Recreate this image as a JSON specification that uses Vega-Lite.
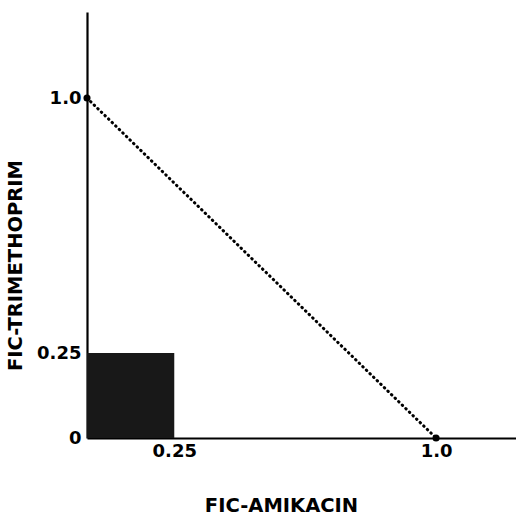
{
  "$schema": "https://vega.github.io/schema/vega-lite/v6.json",
  "width": 429,
  "height": 426,
  "autosize": {"type": "none"},
  "padding": {"left": 87, "top": 12, "right": 0, "bottom": 79},
  "background": "white",
  "config": {
    "view": {"stroke": null},
    "axis": {
      "grid": false,
      "ticks": false,
      "domainColor": "black",
      "domainWidth": 2.2,
      "labelFont": "DejaVu Sans",
      "labelFontSize": 18,
      "labelFontWeight": 600,
      "labelColor": "black",
      "titleFont": "DejaVu Sans",
      "titleFontSize": 19.5,
      "titleFontWeight": "bold",
      "titleColor": "black",
      "labelFlush": false,
      "labelOverlap": false
    }
  },
  "datasets": {
    "square": [{"x": 0, "x2": 0.25, "y": 0, "y2": 0.25}],
    "line": [{"fic_amikacin": 0, "fic_trimethoprim": 1.0}, {"fic_amikacin": 1.0, "fic_trimethoprim": 0}]
  },
  "layer": [
    {
      "data": {"name": "square"},
      "mark": {"type": "rect", "color": "#181818"},
      "encoding": {
        "x": {"field": "x", "type": "quantitative", "scale": {"domain": [0, 1.229], "nice": false, "zero": false},
          "axis": {"values": [0.25, 1.0], "labelExpr": "datum.value == 1 ? '1.0' : '0.25'", "labelPadding": 4,
            "title": "FIC-AMIKACIN", "titleX": 194, "titleY": 67, "titleBaseline": "middle", "titleAlign": "center"}},
        "x2": {"field": "x2"},
        "y": {"field": "y", "type": "quantitative", "scale": {"domain": [0, 1.253], "nice": false, "zero": false},
          "axis": {"values": [0, 0.25, 1.0], "labelExpr": "datum.value == 1 ? '1.0' : datum.value == 0 ? '0' : '0.25'", "labelPadding": 6, "labelBaseline": "middle",
            "title": "FIC-TRIMETHOPRIM", "titleX": -72, "titleY": 253, "titleBaseline": "middle", "titleAlign": "center", "titleAngle": -90}},
        "y2": {"field": "y2"}
      }
    },
    {
      "data": {"name": "line"},
      "mark": {"type": "line", "color": "black", "strokeWidth": 3, "strokeDash": [0.5, 4.5], "strokeCap": "round"},
      "encoding": {
        "x": {"field": "fic_amikacin", "type": "quantitative"},
        "y": {"field": "fic_trimethoprim", "type": "quantitative"}
      }
    },
    {
      "data": {"name": "line"},
      "mark": {"type": "point", "filled": true, "color": "black", "size": 50, "opacity": 1},
      "encoding": {
        "x": {"field": "fic_amikacin", "type": "quantitative"},
        "y": {"field": "fic_trimethoprim", "type": "quantitative"}
      }
    }
  ]
}
